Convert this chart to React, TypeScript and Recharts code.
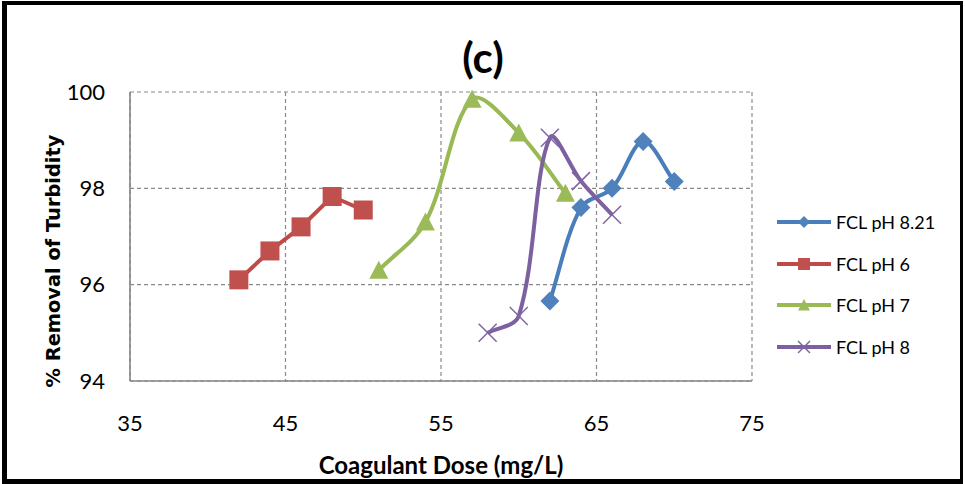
import React from 'react'
import { LineChart, Line, XAxis, YAxis, CartesianGrid } from 'recharts'

// dose (mg/L) and turbidity removal (%) for each FCL run
const dosePh821 = [62, 64, 66, 68, 70]
const removalPh821 = [95.66, 97.6, 98.0, 98.97, 98.14]
const dosePh6 = [42, 44, 46, 48, 50]
const removalPh6 = [96.1, 96.7, 97.2, 97.83, 97.55]
const dosePh7 = [51, 54, 57, 60, 63]
const removalPh7 = [96.3, 97.3, 99.85, 99.15, 97.9]
const dosePh8 = [58, 60, 62, 64, 66]
const removalPh8 = [95.0, 95.35, 99.05, 98.15, 97.45]

const doseTicks = [35, 45, 55, 65, 75]
const removalTicks = [94, 96, 98, 100]

type Shape = 'diamond' | 'square' | 'triangle' | 'cross'

const zip = (xs: number[], ys: number[]) => xs.map((x, i) => ({ dose: x, removal: ys[i] }))

const dist = (a: number[], b: number[]) => Math.hypot(b[0] - a[0], b[1] - a[1])

// Bezier smoothing: tangent from the neighbours, handle length weighted by chord length
const smoothCurve = (context: any) => {
  let pts: number[][] = []
  return {
    areaStart() {},
    areaEnd() {},
    lineStart() {
      pts = []
    },
    point(x: number, y: number) {
      pts.push([+x, +y])
    },
    lineEnd() {
      const n = pts.length
      if (!n) return
      context.moveTo(pts[0][0], pts[0][1])
      if (n === 1) return
      const d = pts.slice(0, -1).map((p, i) => dist(p, pts[i + 1]))
      // outgoing / incoming handles at each point
      const handle = (i: number, side: 1 | -1) => {
        const prev = pts[i - 1] || pts[i]
        const next = pts[i + 1] || pts[i]
        const tx = next[0] - prev[0]
        const ty = next[1] - prev[1]
        const dPrev = i > 0 ? d[i - 1] : 0
        const dNext = i < n - 1 ? d[i] : 0
        const own = side === 1 ? dNext : dPrev
        const k = own / (dPrev + dNext || 1) / 3
        return [pts[i][0] + side * tx * k, pts[i][1] + side * ty * k]
      }
      for (let i = 0; i < n - 1; i++) {
        const c1 = handle(i, 1)
        const c2 = handle(i + 1, -1)
        context.bezierCurveTo(c1[0], c1[1], c2[0], c2[1], pts[i + 1][0], pts[i + 1][1])
      }
    },
  }
}

const series = [
  { name: 'FCL pH 8.21', data: zip(dosePh821, removalPh821), line: '#4A7EBB', fill: '#4F81BD', shape: 'diamond' as Shape, smooth: true },
  { name: 'FCL pH 6', data: zip(dosePh6, removalPh6), line: '#BE4B48', fill: '#C0504D', shape: 'square' as Shape, smooth: false },
  { name: 'FCL pH 7', data: zip(dosePh7, removalPh7), line: '#98B954', fill: '#9BBB59', shape: 'triangle' as Shape, smooth: true },
  { name: 'FCL pH 8', data: zip(dosePh8, removalPh8), line: '#7D60A0', fill: '#8064A2', shape: 'cross' as Shape, smooth: true },
]

function Marker({ shape, cx, cy, r, color }: { shape: Shape; cx: number; cy: number; r: number; color: string }) {
  if (shape === 'diamond') {
    return <polygon points={`${cx},${cy - r} ${cx + r},${cy} ${cx},${cy + r} ${cx - r},${cy}`} fill={color} />
  }
  if (shape === 'square') {
    return <rect x={cx - r} y={cy - r} width={2 * r} height={2 * r} fill={color} />
  }
  if (shape === 'triangle') {
    return <polygon points={`${cx},${cy - r} ${cx + r},${cy + r * 0.9} ${cx - r},${cy + r * 0.9}`} fill={color} />
  }
  return (
    <g stroke={color} strokeWidth={1.5}>
      <line x1={cx - r} y1={cy - r} x2={cx + r} y2={cy + r} />
      <line x1={cx - r} y1={cy + r} x2={cx + r} y2={cy - r} />
    </g>
  )
}

const calibri = 'Lato, "Liberation Sans", sans-serif'

function SeriesLegend() {
  return (
    <div style={{ position: 'absolute', left: 777, top: 201, fontFamily: calibri, fontSize: 18, color: '#000' }}>
      {series.map((s) => (
        <div key={s.name} style={{ display: 'flex', alignItems: 'center', height: 41.7 }}>
          <svg width={56} height={16} style={{ display: 'block' }}>
            <line x1={0} y1={8} x2={54} y2={8} stroke={s.line} strokeWidth={4} />
            <Marker shape={s.shape} cx={27} cy={8} r={6} color={s.fill} />
          </svg>
          <span style={{ marginLeft: 3 }}>{s.name}</span>
        </div>
      ))}
    </div>
  )
}

export default function App() {
  return (
    <div style={{ position: 'absolute', left: 0, top: 0, width: 965, height: 484, background: '#fff' }}>
      <LineChart width={965} height={484} margin={{ top: 92, right: 213, bottom: 73, left: 70 }}>
        <CartesianGrid stroke="#8a8a8a" strokeWidth={1.2} strokeDasharray="4 3" />
        <XAxis
          type="number"
          dataKey="dose"
          domain={[35, 75]}
          ticks={doseTicks}
          height={30}
          axisLine={{ stroke: '#868686', strokeWidth: 1.6 }}
          tickLine={false}
          tickSize={0}
          tickMargin={34}
          tick={{ fill: '#000', fontSize: 22, fontFamily: calibri }}
          allowDuplicatedCategory={false}
        />
        <YAxis
          type="number"
          dataKey="removal"
          domain={[94, 100]}
          ticks={removalTicks}
          width={60}
          axisLine={{ stroke: '#868686', strokeWidth: 1.6 }}
          tickLine={false}
          tickSize={0}
          tickMargin={25}
          tick={{ fill: '#000', fontSize: 22, fontFamily: calibri }}
        />
        {series.map((s) => (
          <Line
            key={s.name}
            data={s.data}
            dataKey="removal"
            name={s.name}
            type={s.smooth ? (smoothCurve as any) : 'linear'}
            stroke={s.line}
            strokeWidth={4}
            isAnimationActive={false}
            dot={(p: any) => (
              <Marker key={`${s.name}-${p.index}`} shape={s.shape} cx={p.cx} cy={p.cy} r={s.shape === 'cross' ? 9 : 9.5} color={s.fill} />
            )}
            activeDot={false}
          />
        ))}
      </LineChart>
      <div
        style={{
          position: 'absolute',
          left: 0,
          top: 32,
          width: 966,
          textAlign: 'center',
          fontFamily: calibri,
          fontWeight: 700,
          fontSize: 42,
          lineHeight: '50px',
          color: '#000',
        }}
      >
        (c)
      </div>
      <div
        style={{
          position: 'absolute',
          left: 130,
          width: 622,
          top: 450,
          textAlign: 'center',
          fontFamily: calibri,
          fontWeight: 700,
          fontSize: 24,
          lineHeight: '30px',
          color: '#000',
        }}
      >
        Coagulant Dose (mg/L)
      </div>
      <div
        style={{
          position: 'absolute',
          left: 53,
          top: 261,
          transform: 'translate(-50%, -50%) rotate(-90deg)',
          whiteSpace: 'nowrap',
          fontFamily: '"DejaVu Sans", Verdana, sans-serif',
          fontWeight: 700,
          fontSize: 19.4,
          color: '#000',
        }}
      >
        % Removal of Turbidity
      </div>
      <SeriesLegend />
      <div
        style={{
          position: 'absolute',
          left: 2,
          top: 1,
          width: 961,
          height: 483,
          boxSizing: 'border-box',
          borderStyle: 'solid',
          borderColor: '#000',
          borderWidth: '4px 3px 5px 5px',
          pointerEvents: 'none',
        }}
      />
    </div>
  )
}
